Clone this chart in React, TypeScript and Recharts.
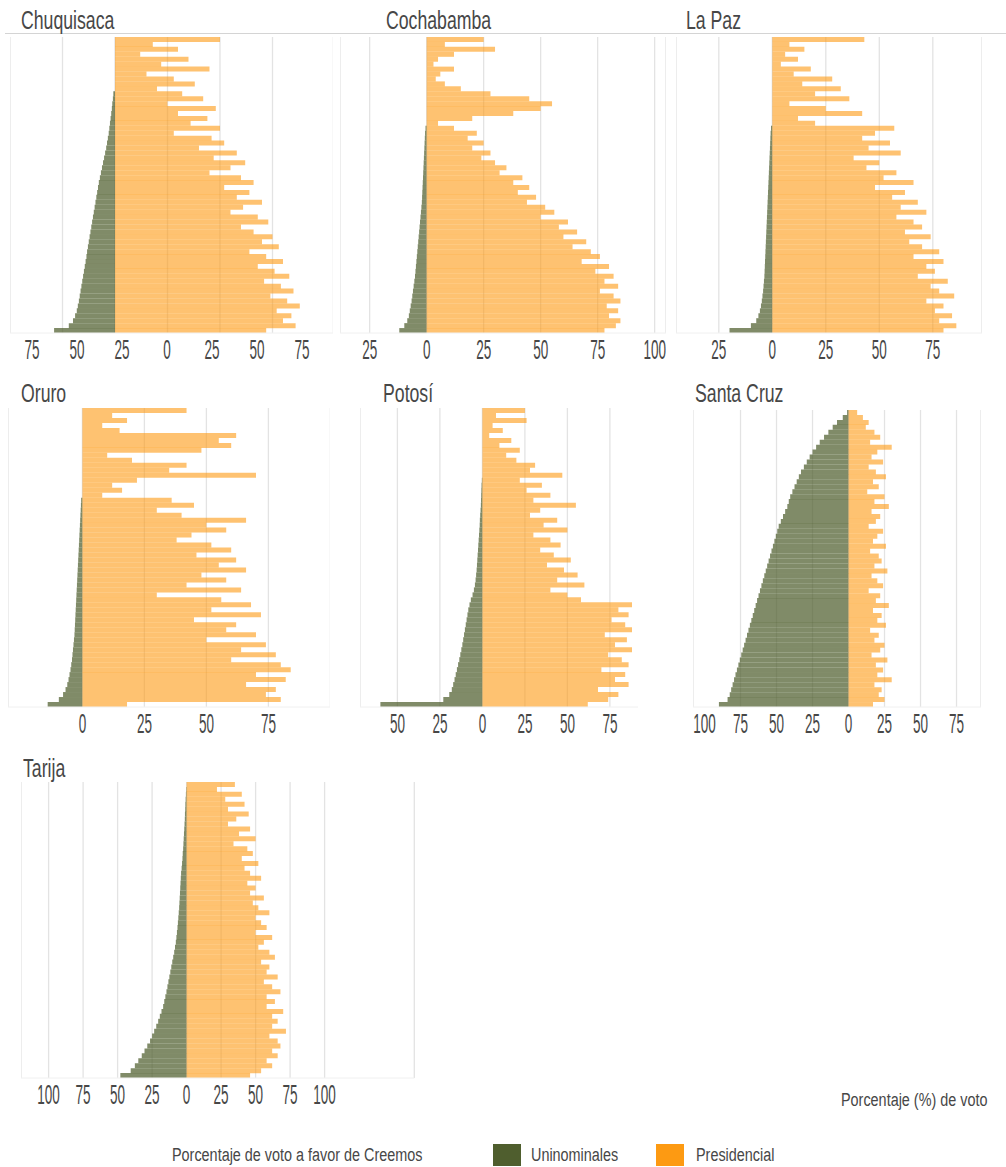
import React from 'react';
import { BarChart, Bar, XAxis, YAxis, CartesianGrid } from 'recharts';

const GREEN = '#4f5e2e';
const ORANGE = '#fd9a12';
const FONT = '"Liberation Sans", Arial, sans-serif';

// % voto Creemos por mesa, de arriba hacia abajo (uninominales en negativo)
const chuquisacaUni = [
  0, 0, 0, 0, 0, 0, 0, 0, 0, 0, 0,
  -0.8, -1, -1.3, -1.5, -1.8, -2.1, -2.4, -2.7, -3, -3.4,
  -3.8, -4.2, -4.7, -5.2, -5.7, -6.2, -6.7, -7.2, -7.7, -8.1,
  -8.5, -8.9, -9.3, -9.7, -10.1, -10.5, -10.9, -11.3, -11.7, -12.1,
  -12.5, -12.9, -13.3, -13.6, -14, -14.4, -14.8, -15.2, -15.6, -16,
  -16.4, -16.8, -17.2, -17.7, -18.2, -19, -20, -22, -29,
];
const chuquisacaPres = [
  50, 18, 30, 12, 35, 22, 45, 15, 28, 38, 20,
  32, 42, 25, 48, 30, 44, 36, 50, 28, 46,
  52, 40, 58, 47, 62, 55, 45, 60, 66, 52,
  64, 58, 70, 61, 55, 68, 73, 60, 66, 75,
  70, 78, 64, 72, 80, 68, 76, 83, 71, 79,
  85, 74, 82, 88, 77, 84, 80, 86, 72,
];

const cochabambaUni = [
  0, 0, 0, 0, 0, 0, 0, 0, 0, 0, 0, 0, 0, 0, 0, 0, 0, 0,
  -0.5, -0.7, -0.8, -0.9, -1, -1.1, -1.2, -1.3, -1.4, -1.5, -1.6, -1.7,
  -1.8, -1.9, -2, -2.1, -2.3, -2.5, -2.7, -2.9, -3.1, -3.3, -3.5, -3.7,
  -3.9, -4.1, -4.3, -4.5, -4.7, -4.9, -5.1, -5.4, -5.7, -6, -6.3, -6.6,
  -7, -7.4, -7.8, -8.5, -9.8, -12,
];
const cochabambaPres = [
  25, 8, 30, 12, 5, 3, 12, 6, 4, 8,
  15, 28, 45, 55, 50, 38, 20, 5, 12, 22,
  18, 25, 20, 28, 24, 30, 35, 32, 42, 38,
  45, 40, 48, 44, 52, 56, 50, 62, 58, 66,
  60, 70, 64, 72, 76, 68, 80, 74, 82, 78,
  84, 76, 82, 85, 79, 84, 80, 85, 83, 78,
];

const laPazUni = [
  0, 0, 0, 0, 0, 0, 0, 0, 0, 0, 0, 0, 0, 0, 0, 0, 0, 0,
  -0.6, -0.8, -0.9, -1, -1.1, -1.2, -1.3, -1.4,
  -1.5, -1.6, -1.7, -1.8, -1.9, -2, -2.1, -2.2,
  -2.3, -2.4, -2.5, -2.6, -2.7, -2.8, -2.9, -3,
  -3.1, -3.2, -3.3, -3.4, -3.5, -3.6, -3.7, -3.9,
  -4.1, -4.3, -4.6, -4.9, -5.3, -5.8,
  -6.5, -7.5, -10, -20,
];
const laPazPres = [
  43, 8, 15, 6, 12, 4, 18, 10, 28, 14,
  32, 20, 36, 8, 25, 42, 12, 20, 57, 48,
  42, 55, 45, 60, 38, 50, 44, 58, 52, 66,
  48, 62, 56, 68, 60, 72, 58, 66, 70, 62,
  74, 64, 70, 78, 66, 80, 72, 76, 68, 82,
  74, 78, 85, 72, 80, 76, 84, 78, 86, 80,
];

const oruroUni = [
  0, 0, 0, 0, 0, 0, 0, 0, 0, 0, 0, 0, 0, 0, 0, 0, 0, 0,
  -0.5, -0.6, -0.7, -0.8, -0.9, -1, -1.1, -1.2, -1.3, -1.4, -1.5, -1.6,
  -1.7, -1.8, -1.9, -2, -2.1, -2.2, -2.3, -2.4, -2.5, -2.6, -2.7, -2.8,
  -2.9, -3, -3.1, -3.2, -3.4, -3.6, -3.8, -4, -4.2, -4.5,
  -4.8, -5.2, -5.6, -6.1, -6.8, -7.8, -9.5, -14,
];
const oruroPres = [
  42, 12, 18, 8, 15, 62, 55, 60, 48, 10,
  20, 42, 35, 70, 22, 12, 16, 8, 36, 45,
  30, 40, 66, 50, 58, 44, 38, 52, 60, 46,
  62, 55, 66, 48, 58, 42, 64, 30, 56, 68,
  52, 72, 45, 62, 58, 70, 50, 74, 64, 78,
  60, 80, 84, 70, 82, 66, 78, 74, 80, 18,
];

const potosiUni = [
  0, 0, 0, 0, 0, 0, 0, 0, 0, 0, 0, 0, 0, 0,
  -0.3, -0.5, -0.6, -0.7, -0.8, -0.9, -1.1, -1.3, -1.5, -1.6,
  -1.8, -2, -2.2, -2.4, -2.6, -2.8, -3, -3.2, -3.4, -3.7,
  -4, -4.4, -5, -5.8, -6.8, -7.6, -8.3, -8.8, -9.3, -9.8,
  -10.3, -10.8, -11.3, -11.8, -12.4, -13, -13.6, -14.3, -15, -15.7,
  -16.4, -17.2, -18, -19.5, -23, -60,
];
const potosiPres = [
  25, 8, 26, 6, 12, 4, 17, 10, 22, 14,
  20, 31, 28, 47, 22, 35, 26, 40, 30, 55,
  34, 28, 44, 36, 50, 30, 40, 46, 34, 42,
  52, 38, 48, 56, 44, 60, 40, 50, 58, 88,
  80, 86, 76, 84, 88, 72, 85, 78, 88, 74,
  82, 86, 70, 84, 78, 86, 68, 80, 74, 62,
];

const santaCruzUni = [
  -1, -4, -8, -11, -14, -17, -20, -22.5, -25, -27,
  -29, -31, -33, -34.5, -36, -37.5, -39, -40.5, -41.5, -42.5,
  -44, -45.5, -47, -48.5, -49.5, -50.5, -51.5, -52.5, -53.5, -54.5,
  -55.5, -56.5, -57.5, -58.5, -59.5, -60.5, -61.5, -62.5, -63.5, -64.5,
  -65.5, -66.5, -67.5, -68.5, -69.5, -70.5, -71.5, -72.5, -73.5, -74.5,
  -75.5, -76.5, -77.5, -78.5, -79.5, -80.5, -81.5, -82.5, -84, -90,
];
const santaCruzPres = [
  6, 10, 14, 12, 18, 22, 15, 30, 20, 16,
  24, 14, 19, 26, 17, 21, 13, 25, 18, 28,
  16, 22, 19, 14, 24, 20, 17, 26, 15, 21,
  23, 18, 27, 16, 20, 24, 14, 22, 19, 28,
  17, 23, 20, 26, 15, 21, 18, 25, 22, 16,
  27, 19, 24, 20, 30, 18, 23, 21, 25, 17,
];

const tarijaUni = [
  0, -0.3, -0.5, -0.7, -0.9, -1, -1.2, -1.3, -1.5, -1.7,
  -1.9, -2.1, -2.3, -2.5, -2.8, -3, -3.3, -3.6, -4, -4.2,
  -4.4, -4.6, -4.8, -5, -5.2, -5.4, -5.7, -6, -6.3, -6.6,
  -7, -7.4, -7.8, -8.4, -9, -9.7, -10.4, -11.1, -11.8, -12.5,
  -13.2, -13.9, -14.6, -15.4, -16.2, -17, -18.2, -19.4, -20.6, -22,
  -23.5, -25, -26.5, -28.5, -30.5, -32.5, -35, -37.5, -40.5, -48,
];
const tarijaPres = [
  35, 22, 40, 28, 42, 30, 45, 36, 30, 46,
  38, 50, 34, 44, 48, 40, 52, 42, 46, 54,
  44, 50, 46, 56, 48, 52, 60, 50, 54, 58,
  50, 62, 56, 52, 60, 64, 54, 60, 58, 66,
  56, 62, 68, 58, 64, 58, 70, 62, 66, 62,
  72, 60, 66, 68, 62, 66, 58, 62, 54, 46,
];

const panels = [
  { name: 'Chuquisaca', uni: chuquisacaUni, pres: chuquisacaPres, zeroX: 115, ppu: 2.1, domain: [-50, 104], grid: [-25, 0, 25, 50, 75], labelZeroX: 167, labelPpu: 1.8, labels: [-75, -50, -25, 0, 25, 50, 75], top: 37, plotH: 296, titleX: 21, titleY: 7 },
  { name: 'Cochabamba', uni: cochabambaUni, pres: cochabambaPres, zeroX: 427, ppu: 2.28, domain: [-38, 105], grid: [-25, 0, 25, 50, 75, 100], top: 37, plotH: 296, titleX: 386, titleY: 7 },
  { name: 'La Paz', uni: laPazUni, pres: laPazPres, zeroX: 772, ppu: 2.14, domain: [-45, 98], grid: [-25, 0, 25, 50, 75], top: 37, plotH: 296, titleX: 686, titleY: 7 },
  { name: 'Oruro', uni: oruroUni, pres: oruroPres, zeroX: 82, ppu: 2.48, domain: [-30, 100], grid: [0, 25, 50, 75], top: 408, plotH: 299, titleX: 21, titleY: 380 },
  { name: 'Potosí', uni: potosiUni, pres: potosiPres, zeroX: 482, ppu: 1.7, domain: [-72, 92], grid: [-50, -25, 0, 25, 50, 75], top: 408, plotH: 299, titleX: 383, titleY: 380 },
  { name: 'Santa Cruz', uni: santaCruzUni, pres: santaCruzPres, zeroX: 849, ppu: 1.44, domain: [-108, 92], grid: [-100, -75, -50, -25, 0, 25, 50, 75], top: 410, plotH: 297, titleX: 695, titleY: 380 },
  { name: 'Tarija', uni: tarijaUni, pres: tarijaPres, zeroX: 187, ppu: 1.38, domain: [-120, 165], grid: [-100, -75, -50, -25, 0, 25, 50, 75, 100], top: 782, plotH: 296, titleX: 23, titleY: 755 },
];

const AXIS_H = 38;
const INK = '#474747';

// the original uses a very condensed face, so squeeze a regular one
const CondensedTick = ({ x, y, payload }: any) => (
  <g transform={`translate(${x},${y - 1})`}>
    <text
      transform="scale(0.5,1)"
      textAnchor="middle"
      dy="0.71em"
      fontSize={27}
      fontFamily={FONT}
      fill={INK}
    >
      {Math.abs(payload.value)}
    </text>
  </g>
);

const Panel = ({ p }: { p: any }) => {
  const left = p.zeroX + p.domain[0] * p.ppu;
  const width = (p.domain[1] - p.domain[0]) * p.ppu;
  const rows = p.uni.map((u: number, i: number) => ({ mesa: i, uni: u, pres: p.pres[i] }));
  // Chuquisaca prints its tick labels off the gridlines
  const lz = p.labelZeroX ?? p.zeroX;
  const lp = p.labelPpu ?? p.ppu;
  const labelDomain = [(left - lz) / lp, (left + width - lz) / lp];
  return (
    <>
      <div
        style={{
          position: 'absolute',
          left: p.titleX,
          top: p.titleY,
          fontFamily: FONT,
          fontSize: 26,
          lineHeight: '26px',
          color: INK,
          whiteSpace: 'nowrap',
          transform: 'scaleX(0.68)',
          transformOrigin: 'left top',
        }}
      >
        {p.name}
      </div>
      <div style={{ position: 'absolute', left, top: p.top }}>
        <BarChart
          layout="vertical"
          width={width}
          height={p.plotH + AXIS_H}
          data={rows}
          margin={{ top: 0, right: 0, bottom: 0, left: 0 }}
          barCategoryGap={0}
          stackOffset="sign"
        >
          <CartesianGrid xAxisId="v" horizontal={false} stroke="#e3e3e3" strokeWidth={1.3} />
          <XAxis xAxisId="v" type="number" domain={p.domain} ticks={p.grid} allowDataOverflow hide />
          <XAxis
            xAxisId="l"
            type="number"
            domain={labelDomain}
            ticks={p.labels ?? p.grid}
            allowDataOverflow
            interval={0}
            height={AXIS_H}
            tickLine={false}
            axisLine={{ stroke: '#f0f0f0' }}
            tick={<CondensedTick />}
          />
          <YAxis type="category" dataKey="mesa" hide />
          <Bar xAxisId="v" dataKey="uni" stackId="s" fill={GREEN} fillOpacity={0.72} isAnimationActive={false} />
          <Bar xAxisId="v" dataKey="pres" stackId="s" fill={ORANGE} fillOpacity={0.6} isAnimationActive={false} />
        </BarChart>
      </div>
    </>
  );
};

const App = () => {
  const txt: React.CSSProperties = {
    position: 'absolute',
    fontFamily: FONT,
    fontSize: 18,
    lineHeight: '18px',
    color: INK,
    whiteSpace: 'nowrap',
    transform: 'scaleX(0.8)',
    transformOrigin: 'left top',
  };
  return (
    <div style={{ position: 'relative', width: 1006, height: 1167, background: '#fff', overflow: 'hidden' }}>
      <style>{'body{margin:0}'}</style>
      <div style={{ position: 'absolute', left: 5, top: 33, width: 1001, height: 1, background: '#d4d4d4' }} />
      {panels.map((p) => (
        <Panel key={p.name} p={p} />
      ))}
      <div style={{ ...txt, left: 841, top: 1091 }}>Porcentaje (%) de voto</div>
      <div style={{ ...txt, left: 172, top: 1146 }}>Porcentaje de voto a favor de Creemos</div>
      <div style={{ position: 'absolute', left: 493, top: 1144, width: 28, height: 22, background: GREEN }} />
      <div style={{ ...txt, left: 531, top: 1146 }}>Uninominales</div>
      <div style={{ position: 'absolute', left: 656, top: 1144, width: 28, height: 22, background: ORANGE }} />
      <div style={{ ...txt, left: 696, top: 1146 }}>Presidencial</div>
    </div>
  );
};

export default App;
